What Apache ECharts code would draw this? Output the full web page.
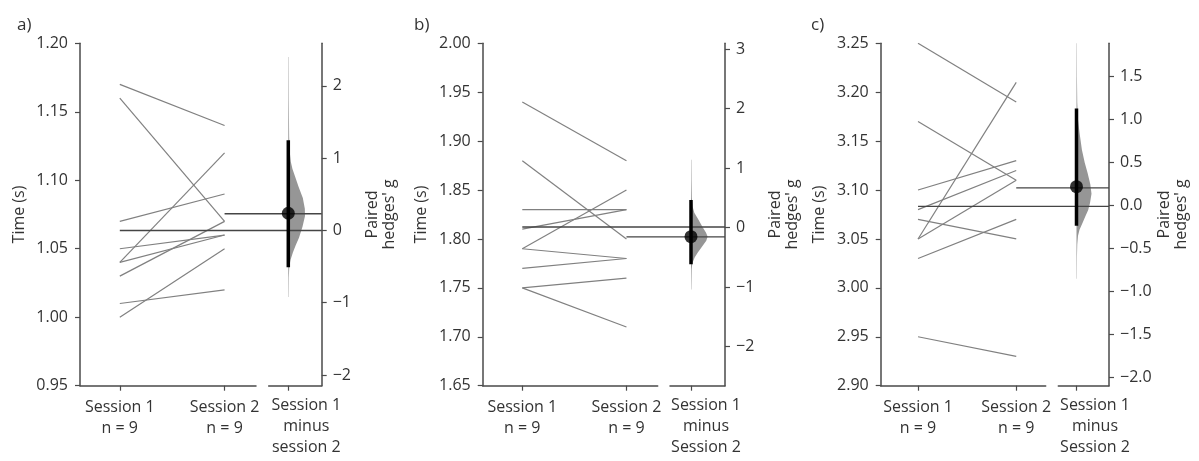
<!DOCTYPE html>
<html><head><meta charset="utf-8">
<script src="https://cdn.jsdelivr.net/npm/echarts@6/dist/echarts.min.js"></script>
<style>html,body{margin:0;padding:0;background:#fff}#c{width:1199px;height:461px}</style>
</head><body><div id="c"></div>
<script>
// ---------- data ----------
const categories = ['Session 1', 'Session 2'];
const groupSizes = ['n = 9', 'n = 9'];
const panelLetters = ['a)', 'b)', 'c)'];
const effectLabels = ['Session 1\nminus\nsession 2', 'Session 1\nminus\nSession 2', 'Session 1\nminus\nSession 2'];
const yTitle = 'Time (s)';
const effectTitle = "Paired\nhedges' g";

const session1A = [1.17, 1.16, 1.07, 1.05, 1.04, 1.04, 1.03, 1.01, 1.00];
const session2A = [1.14, 1.07, 1.09, 1.06, 1.12, 1.06, 1.07, 1.02, 1.05];
const session1B = [1.94, 1.88, 1.83, 1.81, 1.79, 1.79, 1.77, 1.75, 1.75];
const session2B = [1.88, 1.80, 1.83, 1.83, 1.85, 1.78, 1.78, 1.76, 1.71];
const session1C = [3.25, 3.17, 3.10, 3.08, 3.07, 3.05, 3.05, 3.03, 2.95];
const session2C = [3.19, 3.11, 3.13, 3.12, 3.05, 3.21, 3.11, 3.07, 2.93];

const timeTicksA = [0.95, 1.00, 1.05, 1.10, 1.15, 1.20];
const timeTicksB = [1.65, 1.70, 1.75, 1.80, 1.85, 1.90, 1.95, 2.00];
const timeTicksC = [2.90, 2.95, 3.00, 3.05, 3.10, 3.15, 3.20, 3.25];

const gTicksA = [-2, -1, 0, 1, 2];
const gTicksB = [-2, -1, 0, 1, 2, 3];
const gTicksC = [-2.0, -1.5, -1.0, -0.5, 0.0, 0.5, 1.0, 1.5];
const gRangeA = [-2.148, 2.59];
const gRangeB = [-2.655, 3.097];
const gRangeC = [-2.093, 1.888];

const effectSizes = [0.238, -0.151, 0.221];
const ciLow = [-0.51, -0.615, -0.233];
const ciHigh = [1.25, 0.465, 1.13];

// bootstrap distribution (g value, relative density)
const violinGA = [2.40, 1.8, 1.3, 1.1, 0.95, 0.85, 0.75, 0.6, 0.45, 0.3, 0.2, 0.05, -0.1, -0.2, -0.3, -0.4, -0.5, -0.65, -0.92];
const violinDA = [0.02, 0.03, 0.05, 0.08, 0.15, 0.25, 0.40, 0.62, 0.87, 0.99, 1.0, 0.85, 0.64, 0.45, 0.28, 0.14, 0.06, 0.03, 0.02];
const violinGB = [1.14, 0.8, 0.5, 0.35, 0.25, 0.13, 0.0, -0.08, -0.15, -0.22, -0.32, -0.42, -0.5, -0.6, -0.7, -1.04];
const violinDB = [0.02, 0.03, 0.05, 0.10, 0.20, 0.46, 0.72, 0.90, 1.0, 0.92, 0.66, 0.40, 0.22, 0.08, 0.04, 0.02];
const violinGC = [1.89, 1.5, 1.2, 1.0, 0.85, 0.65, 0.5, 0.38, 0.25, 0.14, 0.03, -0.05, -0.12, -0.2, -0.28, -0.35, -0.45, -0.6, -0.85];
const violinDC = [0.02, 0.03, 0.05, 0.10, 0.20, 0.36, 0.55, 0.74, 0.92, 1.0, 0.90, 0.78, 0.60, 0.40, 0.20, 0.10, 0.05, 0.03, 0.02];

// ---------- layout ----------
const TOP = 43.3, BOTTOM = 385.7;
const PAIR_X = [-0.38, 1.30];
const layout = [
  {left: 80, pairRight: 256, effLeft: 268.7, effRight: 321.7, effCenter: 288.3, labelOff: 18, violinMax: 16.7, letterX: 12},
  {left: 482.7, pairRight: 657.7, effLeft: 670, effRight: 725, effCenter: 691, labelOff: 15, violinMax: 16.6, letterX: 409},
  {left: 880.7, pairRight: 1045.7, effLeft: 1058.3, effRight: 1109, effCenter: 1076.5, labelOff: 18.5, violinMax: 15, letterX: 806}
];
const panels = [
  {s1: session1A, s2: session2A, tt: timeTicksA, gt: gTicksA, gr: gRangeA, vg: violinGA, vd: violinDA, dec: 0},
  {s1: session1B, s2: session2B, tt: timeTicksB, gt: gTicksB, gr: gRangeB, vg: violinGB, vd: violinDB, dec: 0},
  {s1: session1C, s2: session2C, tt: timeTicksC, gt: gTicksC, gr: gRangeC, vg: violinGC, vd: violinDC, dec: 1}
];

const TXT = '#333';
const AX = '#4a4a4a';
const FONT = 'Open Sans';
const FS = 16;
const minus = s => String(s).replace('-', '\u2212');
const mean = a => a.reduce((s, v) => s + v, 0) / a.length;

const grid = [], xAxis = [], yAxis = [], series = [], title = [];
const H = BOTTOM - TOP;

panels.forEach((p, k) => {
  const L = layout[k];
  const gi = k * 3;
  grid.push({left: L.left, top: TOP, width: L.pairRight - L.left, height: H});
  grid.push({left: L.effLeft, top: TOP, width: L.effRight - L.effLeft, height: H});
  grid.push({left: L.left, top: TOP, width: L.effRight - L.left, height: H});

  const axisLine = {show: true, onZero: false, lineStyle: {color: AX, width: 1.5}};
  const tick = (vals) => ({show: true, length: 5, customValues: vals, lineStyle: {color: AX, width: 1.2}});
  // pair x
  xAxis.push({type: 'value', gridIndex: gi, min: PAIR_X[0], max: PAIR_X[1], axisLine,
    axisTick: tick([0, 1]), splitLine: {show: false},
    axisLabel: {customValues: [0, 1], margin: 11, color: TXT, fontSize: FS, fontFamily: FONT, lineHeight: 21,
      formatter: v => categories[Math.round(v)] + '\n' + groupSizes[Math.round(v)]}});
  // effect x
  xAxis.push({type: 'value', gridIndex: gi + 1, min: L.effLeft - L.effCenter, max: L.effRight - L.effCenter, axisLine,
    axisTick: tick([0]), splitLine: {show: false},
    axisLabel: {customValues: [L.labelOff], margin: 9, color: TXT, fontSize: FS, fontFamily: FONT, lineHeight: 21,
      formatter: () => effectLabels[k]}});
  // overlay x (same scale as pair x, extended to right axis)
  const pxPerUnit = (L.pairRight - L.left) / (PAIR_X[1] - PAIR_X[0]);
  const overlayMax = PAIR_X[0] + (L.effRight - L.left) / pxPerUnit;
  xAxis.push({type: 'value', gridIndex: gi + 2, min: PAIR_X[0], max: overlayMax, show: false});

  const tmin = p.tt[0], tmax = p.tt[p.tt.length - 1];
  yAxis.push({type: 'value', gridIndex: gi, min: tmin, max: tmax, axisLine,
    axisTick: tick(p.tt), splitLine: {show: false},
    axisLabel: {customValues: p.tt, margin: 12, color: TXT, fontSize: FS, fontFamily: FONT, formatter: v => v.toFixed(2)},
    name: yTitle, nameLocation: 'middle', nameGap: 53, nameRotate: 90,
    nameTextStyle: {color: TXT, fontSize: FS, fontFamily: FONT}});
  yAxis.push({type: 'value', gridIndex: gi + 1, position: 'right', min: p.gr[0], max: p.gr[1], axisLine,
    axisTick: tick(p.gt), splitLine: {show: false},
    axisLabel: {customValues: p.gt, margin: 11, color: TXT, fontSize: FS, fontFamily: FONT, formatter: v => minus(v.toFixed(p.dec))},
    name: effectTitle, nameLocation: 'middle', nameGap: 42, nameRotate: 90,
    nameTextStyle: {color: TXT, fontSize: FS, fontFamily: FONT, lineHeight: 17}});
  yAxis.push({type: 'value', gridIndex: gi + 2, min: tmin, max: tmax, show: false});

  // paired lines
  p.s1.forEach((v, i) => {
    series.push({type: 'line', xAxisIndex: gi, yAxisIndex: gi, data: [[0, v], [1, p.s2[i]]],
      symbol: 'none', silent: true, z: 2, lineStyle: {color: '#808080', width: 1.2}});
  });
  // mean reference lines
  const m1 = mean(p.s1), m2 = mean(p.s2);
  series.push({type: 'line', xAxisIndex: gi + 2, yAxisIndex: gi + 2, data: [[0, m1], [overlayMax, m1]],
    symbol: 'none', silent: true, z: 3, lineStyle: {color: '#454545', width: 1.3}});
  series.push({type: 'line', xAxisIndex: gi + 2, yAxisIndex: gi + 2, data: [[1, m2], [overlayMax, m2]],
    symbol: 'none', silent: true, z: 3, lineStyle: {color: '#454545', width: 1.3}});

  // violin (half)
  const vdata = p.vg.map((g, i) => [p.vd[i] * L.violinMax, g]);
  series.push({type: 'custom', xAxisIndex: gi + 1, yAxisIndex: gi + 1, data: vdata, silent: true, z: 2,
    clip: false,
    renderItem: (params, api) => {
      if (params.dataIndex !== 0) return null;
      const pts = vdata.map(d => api.coord(d));
      pts.push(api.coord([0, vdata[vdata.length - 1][1]]));
      pts.unshift(api.coord([0, vdata[0][1]]));
      return {type: 'polygon', shape: {points: pts}, style: {fill: '#969696', stroke: null}};
    }});
  // CI
  series.push({type: 'line', xAxisIndex: gi + 1, yAxisIndex: gi + 1, data: [[0, ciLow[k]], [0, ciHigh[k]]],
    symbol: 'none', silent: true, z: 4, lineStyle: {color: '#000', width: 3.5, cap: 'butt'}});
  // effect size dot
  series.push({type: 'scatter', xAxisIndex: gi + 1, yAxisIndex: gi + 1, data: [[0, effectSizes[k]]],
    symbol: 'circle', symbolSize: 13, silent: true, z: 5, itemStyle: {color: '#000'}});

  title.push({text: panelLetters[k], left: L.letterX, top: 12,
    textStyle: {color: TXT, fontSize: 17, fontWeight: 'normal', fontFamily: FONT}});
});

const chart = echarts.init(document.getElementById('c'), null, {renderer: 'canvas'});
chart.setOption({animation: false, backgroundColor: '#fff', title, grid, xAxis, yAxis, series});
</script></body></html>
